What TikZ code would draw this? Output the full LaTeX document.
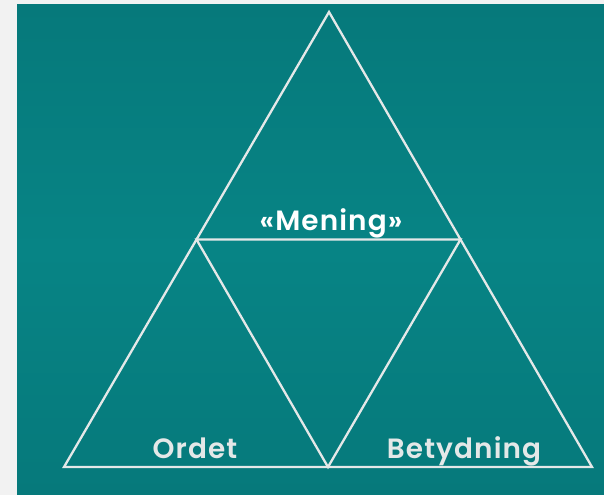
\documentclass[tikz,border=0pt]{standalone}
\usepackage{fontspec}
\setmainfont{Poppins}[BoldFont={Poppins SemiBold},LetterSpace=4]
\definecolor{teal1}{HTML}{078485}
\definecolor{teal2}{HTML}{06797B}
\definecolor{teal3}{HTML}{06797B}
\definecolor{linec}{HTML}{E4E8E8}
\begin{document}
\begin{tikzpicture}[x=1bp,y=-1bp,
  edge/.style={draw=linec,line width=2.3bp,line join=miter},
  lbl/.style={text=linec,font=\bfseries\fontsize{28}{32}\selectfont,inner sep=0pt,anchor=base}]
\useasboundingbox (0,0) rectangle (604,495);
\fill[white!95!black] (0,0) rectangle (604,495);
\shade[top color=teal2,bottom color=teal3,middle color=teal1] (17,5) rectangle (604,495);
\coordinate (A) at (329,12);
\coordinate (L) at (64,467);
\coordinate (R) at (592,467);
\coordinate (ML) at (196.5,239.5);
\coordinate (MR) at (460.5,239.5);
\coordinate (MB) at (328,467);
\draw[edge] (A) -- (L) -- (R) -- cycle;
\draw[edge] (ML) -- (MR) -- (MB) -- cycle;
\node[lbl,text=white] (mening) at (331,231) {«Mening»};
\node[lbl] (ordet) at (195,458) {Ordet};
\node[lbl] (bet) at (464,458) {Betydning};
\end{tikzpicture}
\end{document}
